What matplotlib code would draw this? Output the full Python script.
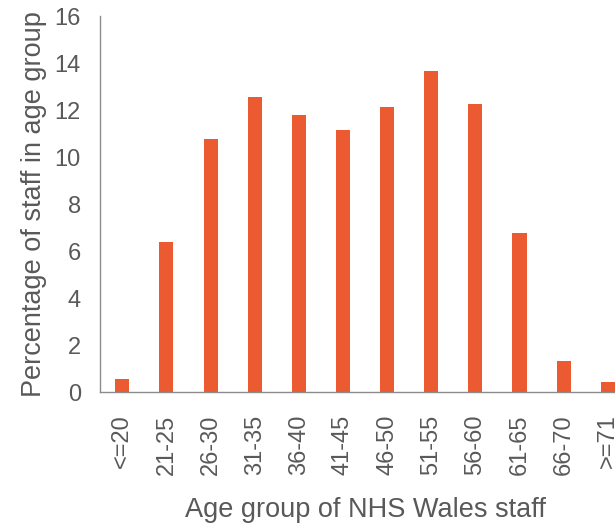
import matplotlib
matplotlib.use("Agg")
import matplotlib.pyplot as plt

# Age groups and percentage of staff in each
age_groups = ["<=20", "21-25", "26-30", "31-35", "36-40", "41-45",
              "46-50", "51-55", "56-60", "61-65", "66-70", ">=71"]
pct_staff = [0.55, 6.38, 10.77, 12.57, 11.8, 11.15,
             12.12, 13.68, 12.27, 6.78, 1.33, 0.45]
y_ticks = [0, 2, 4, 6, 8, 10, 12, 14, 16]

plt.rcParams["font.family"] = ["Liberation Sans", "DejaVu Sans"]
text_col = "#595959"

fig = plt.figure(figsize=(6.15, 5.24), dpi=100)
# axes runs past the right edge, like the original export
ax = fig.add_axes([0.163, 0.2513, 0.861, 0.7176])

x = range(len(age_groups))
ax.bar(x, pct_staff, width=0.32, color="#EB5A30")

ax.set_xlim(-0.5, len(age_groups) - 0.5)
ax.set_ylim(0, 16)
ax.set_yticks(y_ticks)
ax.set_xticks(list(x))
ax.set_xticklabels(age_groups, rotation=90)

for side in ["top", "right"]:
    ax.spines[side].set_visible(False)
for side in ["left", "bottom"]:
    ax.spines[side].set_color("#8c8c8c")
    ax.spines[side].set_linewidth(1.0)

ax.tick_params(axis="both", length=0, labelsize=17, colors=text_col)
ax.tick_params(axis="y", pad=14)
ax.tick_params(axis="x", pad=16)

ax.set_ylabel("Percentage of staff in age group", fontsize=19.5,
              color=text_col, labelpad=5)
ax.set_xlabel("Age group of NHS Wales staff", fontsize=19.5,
              color=text_col, labelpad=16)

fig.savefig("out.png", dpi=100)
